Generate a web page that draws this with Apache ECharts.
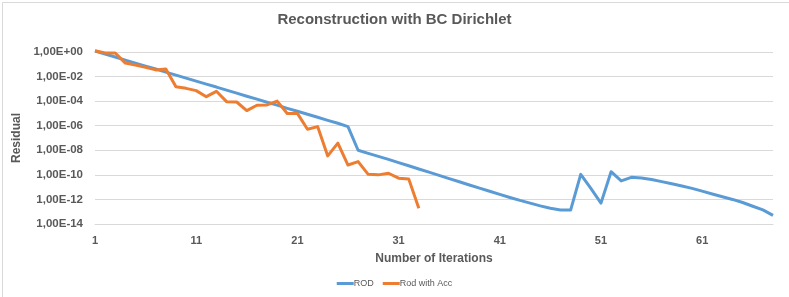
<!DOCTYPE html>
<html>
<head>
<meta charset="utf-8">
<script src="https://cdn.jsdelivr.net/npm/echarts@6/dist/echarts.min.js"></script>
<style>
html,body{margin:0;padding:0;background:#fff;}
#chart{width:789px;height:297px;}
</style>
</head>
<body>
<div id="chart"></div>
<script>
const titleText = 'Reconstruction with BC Dirichlet';
const xAxisTitle = 'Number of Iterations';
const yAxisTitle = 'Residual';
const seriesNames = ['ROD', 'Rod with Acc'];

const categories = [1,2,3,4,5,6,7,8,9,10,11,12,13,14,15,16,17,18,19,20,
  21,22,23,24,25,26,27,28,29,30,31,32,33,34,35,36,37,38,39,40,
  41,42,43,44,45,46,47,48,49,50,51,52,53,54,55,56,57,58,59,60,
  61,62,63,64,65,66,67,68];

const rod = [1.2, 6.8e-1, 3.9e-1, 2.2e-1, 1.25e-1, 7.1e-2, 4.1e-2, 2.3e-2, 1.3e-2, 7.4e-3,
  4.3e-3, 2.4e-3, 1.4e-3, 7.8e-4, 4.5e-4, 2.5e-4, 1.45e-4, 8.1e-5, 4.7e-5, 2.6e-5,
  1.5e-5, 8.5e-6, 4.9e-6, 2.75e-6, 1.6e-6, 8.5e-7, 1.0e-8, 5.6e-9, 3.2e-9, 1.8e-9,
  1.0e-9, 5.5e-10, 3.0e-10, 1.65e-10, 9.1e-11, 5.0e-11, 2.75e-11, 1.5e-11, 8.3e-12, 4.6e-12,
  2.6e-12, 1.45e-12, 8.3e-13, 5.0e-13, 3.0e-13, 1.9e-13, 1.4e-13, 1.35e-13, 1.1e-10, 7.9e-12,
  5.0e-13, 1.8e-10, 3.2e-11, 6.3e-11, 5.6e-11, 4.2e-11, 2.8e-11, 1.9e-11, 1.25e-11, 7.9e-12,
  4.7e-12, 2.8e-12, 1.65e-12, 1.0e-12, 5.6e-13, 2.8e-13, 1.4e-13, 5.0e-14];

const rodAcc = [1.25, 8.3e-1, 8.3e-1, 1.25e-1, 8.7e-2, 5.6e-2, 3.5e-2, 4.2e-2, 1.5e-3, 1.1e-3,
  7.2e-4, 2.3e-4, 6.3e-4, 9.1e-5, 8.5e-5, 1.7e-5, 4.6e-5, 4.9e-5, 1.0e-4, 1.0e-5,
  1.0e-5, 5.1e-7, 8.5e-7, 3.5e-9, 3.8e-8, 6.3e-10, 1.2e-9, 1.1e-10, 1.0e-10, 1.35e-10,
  5.4e-11, 4.7e-11, 1.9e-13];

const yMin = 1e-14, yMax = 1, yExpStep = 2;

function fmtSci(v) {
  const e = Math.round(Math.log10(v));
  const s = e < 0 ? '-' : '+';
  return '1,00E' + s + String(Math.abs(e)).padStart(2, '0');
}

const chart = echarts.init(document.getElementById('chart'), null, {renderer: 'canvas'});
const font = 'Liberation Sans, Arial, sans-serif';
chart.setOption({
  animation: false,
  backgroundColor: '#ffffff',
  graphic: [{
    type: 'rect', left: 0, top: 0, silent: true,
    shape: {x: 0.5, y: 0.5, width: 787, height: 295},
    style: {fill: null, stroke: '#d9d9d9', lineWidth: 1}
  }],
  title: {
    text: titleText, left: 'center', top: 7,
    textStyle: {fontFamily: font, fontSize: 15, fontWeight: 'bold', color: '#595959'}
  },
  legend: {
    data: seriesNames, bottom: 4, left: 'center',
    icon: 'rect', itemWidth: 17, itemHeight: 3, itemGap: 9,
    textStyle: {fontFamily: font, fontSize: 9, color: '#595959', padding: [0, 0, 0, -5]}
  },
  grid: {left: 95, right: 16, top: 52, bottom: 73},
  xAxis: {
    type: 'category', data: categories, boundaryGap: false,
    name: xAxisTitle, nameLocation: 'middle', nameGap: 29,
    nameTextStyle: {fontFamily: font, fontSize: 12, fontWeight: 'bold', color: '#595959'},
    axisLine: {lineStyle: {color: '#d9d9d9'}},
    axisTick: {show: false},
    axisLabel: {interval: 9, margin: 11, fontFamily: font, fontSize: 11, fontWeight: 'bold', color: '#595959'},
    splitLine: {show: false}
  },
  yAxis: {
    type: 'log', logBase: 10, min: yMin, max: yMax, interval: yExpStep,
    name: yAxisTitle, nameLocation: 'middle', nameGap: 70, nameRotate: 90,
    nameTextStyle: {fontFamily: font, fontSize: 12, fontWeight: 'bold', color: '#595959'},
    axisLine: {show: false}, axisTick: {show: false},
    axisLabel: {formatter: fmtSci, margin: 12, fontFamily: font, fontSize: 11.5, fontWeight: 'bold', color: '#595959'},
    splitLine: {lineStyle: {color: '#d9d9d9', width: 1}}
  },
  series: [
    {name: seriesNames[0], type: 'line', data: rod, showSymbol: false, symbol: 'none', clip: false,
     lineStyle: {color: '#5b9bd5', width: 3, join: 'round'}, itemStyle: {color: '#5b9bd5'}},
    {name: seriesNames[1], type: 'line', data: rodAcc, showSymbol: false, symbol: 'none', clip: false,
     lineStyle: {color: '#ed7d31', width: 3, join: 'round'}, itemStyle: {color: '#ed7d31'}}
  ]
});
</script>
</body>
</html>
